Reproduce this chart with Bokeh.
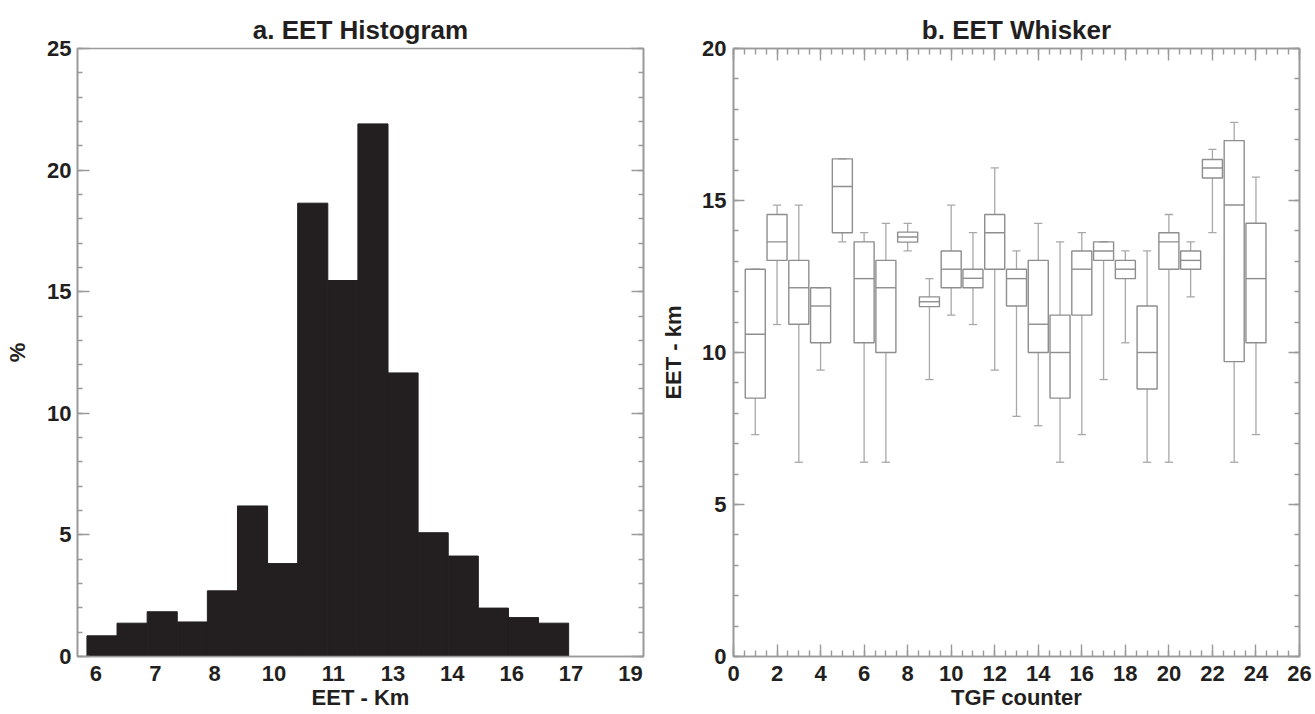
from bokeh.plotting import figure
from bokeh.models import Range1d, LinearAxis, FixedTicker, CustomLabelingPolicy
from bokeh.layouts import row
from bokeh.embed import file_html
from bokeh.resources import INLINE

# ---------------- data ----------------
# a. EET histogram (percent of cases per EET bin, km)
eet_bin_edges = [5.78, 6.52, 7.26, 8.00, 8.74, 9.48, 10.22, 10.96, 11.70,
                 12.44, 13.18, 13.92, 14.66, 15.40, 16.14, 16.88, 17.62]
eet_percent = [0.85, 1.37, 1.84, 1.42, 2.70, 6.19, 3.82, 18.64,
               15.46, 21.90, 11.66, 5.09, 4.13, 1.99, 1.60, 1.37]
hist_tick_pos = [6.00, 7.46, 8.92, 10.38, 11.84, 13.30, 14.76, 16.22, 17.68, 19.14]
hist_tick_labels = ["6", "7", "8", "10", "11", "13", "14", "16", "17", "19"]
hist_y_ticks = [0, 5, 10, 15, 20, 25]
hist_y_minor = list(range(0, 26))

# b. EET whisker per TGF
tgf_counter = list(range(1, 25))
eet_q1 = [8.50, 13.03, 10.93, 10.32, 13.94, 10.32, 10.00, 13.63, 11.51, 12.13, 12.13, 12.74,
          11.53, 10.00, 8.50, 11.23, 13.03, 12.43, 8.80, 12.74, 12.74, 15.74, 9.70, 10.32]
eet_q3 = [12.74, 14.54, 13.03, 12.13, 16.37, 13.64, 13.03, 13.96, 11.83, 13.34, 12.74, 14.54,
          12.74, 13.03, 11.23, 13.34, 13.64, 13.03, 11.53, 13.94, 13.34, 16.35, 16.97, 14.25]
eet_median = [10.60, 13.64, 12.13, 11.53, 15.46, 12.43, 12.13, 13.80, 11.67, 12.74, 12.44, 13.94,
              12.43, 10.93, 10.00, 12.74, 13.34, 12.74, 10.00, 13.64, 13.03, 16.07, 14.85, 12.43]
eet_upper = [12.74, 14.85, 14.85, 12.13, 16.37, 13.94, 14.25, 14.25, 12.43, 14.85, 13.94, 16.07,
             13.34, 14.25, 13.64, 13.94, 13.64, 13.34, 13.34, 14.54, 13.64, 16.68, 17.57, 15.77]
eet_lower = [7.30, 10.92, 6.39, 9.42, 13.64, 6.39, 6.39, 13.34, 9.11, 11.23, 10.92, 9.42,
             7.90, 7.59, 6.39, 7.30, 9.11, 10.32, 6.39, 6.39, 11.83, 13.94, 6.39, 7.30]
whisk_x_ticks = list(range(0, 27, 2))
whisk_x_minor = [i * 0.5 for i in range(0, 53)]
whisk_y_ticks = [0, 5, 10, 15, 20]
whisk_y_minor = list(range(0, 21))

# ---------------- style ----------------
FONT = "Liberation Sans"
INK = "#231f20"
GRAY = "#9a9a9a"
TICK_FS = "22px"
TITLE_FS = "26px"
LABEL_FS = "22px"


def style_axis(ax, major_in, minor_in, standoff=6):
    ax.axis_line_color = GRAY
    ax.axis_line_width = 1.6
    ax.major_tick_line_color = GRAY
    ax.minor_tick_line_color = GRAY
    ax.major_tick_line_width = 1.4
    ax.minor_tick_line_width = 1.4
    ax.major_tick_in = major_in
    ax.major_tick_out = 0
    ax.minor_tick_in = minor_in
    ax.minor_tick_out = 0
    ax.major_label_text_font = FONT
    ax.major_label_text_font_style = "bold"
    ax.major_label_text_color = INK
    ax.major_label_text_font_size = TICK_FS
    ax.major_label_standoff = standoff
    ax.axis_label_text_font = FONT
    ax.axis_label_text_font_style = "bold"
    ax.axis_label_text_font_size = LABEL_FS
    ax.axis_label_text_color = INK


def mirror_axis(ticks, minor, major_in, minor_in):
    ax = LinearAxis(ticker=FixedTicker(ticks=ticks, minor_ticks=minor))
    style_axis(ax, major_in, minor_in, standoff=0)
    ax.major_label_overrides = {t: "" for t in ticks}
    ax.major_label_policy = CustomLabelingPolicy(code="")
    ax.major_label_text_font_size = "1px"
    return ax


def base_fig(width, xr, yr, bl, br, title):
    p = figure(width=width, height=714, x_range=xr, y_range=yr,
               output_backend="svg", toolbar_location=None,
               min_border_left=bl, min_border_right=br,
               min_border_top=48, min_border_bottom=58, title=title)
    p.xgrid.visible = False
    p.ygrid.visible = False
    p.outline_line_color = GRAY
    p.outline_line_width = 1.6
    p.background_fill_color = "white"
    p.border_fill_color = "white"
    p.title.align = "center"
    p.title.text_font = FONT
    p.title.text_font_style = "bold"
    p.title.text_font_size = TITLE_FS
    p.title.text_color = INK
    p.title.standoff = 8
    return p


# ---------------- a. histogram ----------------
p1 = base_fig(654, Range1d(5.548, 19.46), Range1d(0, 25), 77, 11, "a. EET Histogram")
p1.quad(left=eet_bin_edges[:-1], right=eet_bin_edges[1:], bottom=0, top=eet_percent,
        fill_color=INK, line_color=INK, line_width=1)

xa = p1.xaxis[0]
xa.ticker = FixedTicker(ticks=hist_tick_pos)
xa.major_label_overrides = {t: l for t, l in zip(hist_tick_pos, hist_tick_labels)}
style_axis(xa, 0, 0, standoff=9)
xa.axis_label = "EET - Km"
xa.axis_label_standoff = 1

ya = p1.yaxis[0]
ya.ticker = FixedTicker(ticks=hist_y_ticks, minor_ticks=hist_y_minor)
style_axis(ya, 12, 5, standoff=6)
ya.axis_label = "%"
ya.axis_label_standoff = 14

p1.add_layout(mirror_axis(hist_y_ticks, hist_y_minor, 12, 5), "right")

# ---------------- b. whisker ----------------
p2 = base_fig(661, Range1d(0, 26), Range1d(0, 20), 79, 16, "b. EET Whisker")

BOX_W = 0.46
CAP_W = 0.19
x_left = [x - BOX_W for x in tgf_counter]
x_right = [x + BOX_W for x in tgf_counter]
c_left = [x - CAP_W for x in tgf_counter]
c_right = [x + CAP_W for x in tgf_counter]

WH = "#a8a8a8"
BX = "#8e8e8e"
p2.segment(x0=tgf_counter, y0=eet_q3, x1=tgf_counter, y1=eet_upper, line_color=WH, line_width=1.3)
p2.segment(x0=tgf_counter, y0=eet_q1, x1=tgf_counter, y1=eet_lower, line_color=WH, line_width=1.3)
p2.segment(x0=c_left, y0=eet_upper, x1=c_right, y1=eet_upper, line_color=WH, line_width=1.3)
p2.segment(x0=c_left, y0=eet_lower, x1=c_right, y1=eet_lower, line_color=WH, line_width=1.3)
p2.quad(left=x_left, right=x_right, bottom=eet_q1, top=eet_q3,
        fill_color=None, line_color=BX, line_width=1.4)
p2.segment(x0=x_left, y0=eet_median, x1=x_right, y1=eet_median, line_color=BX, line_width=1.4)

xb = p2.xaxis[0]
xb.ticker = FixedTicker(ticks=whisk_x_ticks, minor_ticks=whisk_x_minor)
style_axis(xb, 12, 6, standoff=9)
xb.axis_label = "TGF counter"
xb.axis_label_standoff = 1

p2.add_layout(mirror_axis(whisk_x_ticks, whisk_x_minor, 12, 6), "above")

yb = p2.yaxis[0]
yb.ticker = FixedTicker(ticks=whisk_y_ticks, minor_ticks=whisk_y_minor)
style_axis(yb, 11, 5, standoff=7)
yb.axis_label = "EET - km"
yb.axis_label_standoff = 13

p2.add_layout(mirror_axis(whisk_y_ticks, whisk_y_minor, 11, 5), "right")

layout = row(p1, p2)
open("out.html", "w").write(file_html(layout, INLINE))
